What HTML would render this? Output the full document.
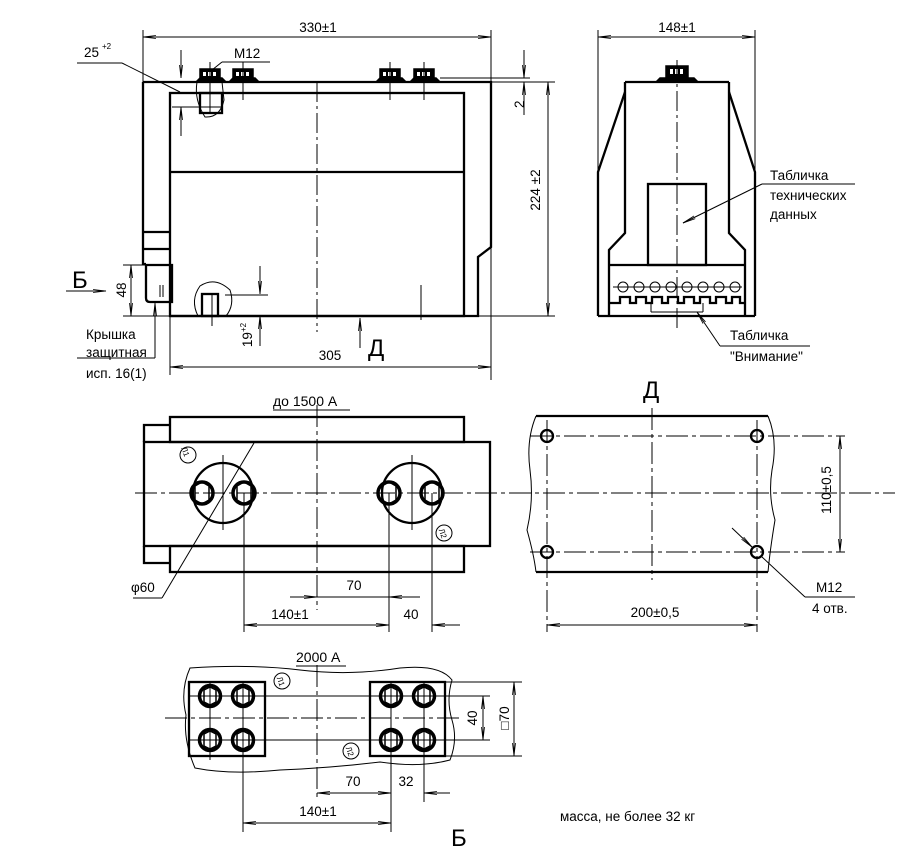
<!DOCTYPE html>
<html><head><meta charset="utf-8"><style>
html,body{margin:0;padding:0;background:#fff;}
svg{display:block;font-family:"Liberation Sans",sans-serif;}
</style></head><body>
<svg width="907" height="860" viewBox="0 0 907 860" xmlns="http://www.w3.org/2000/svg">
<defs>
<marker id="a" markerWidth="14" markerHeight="6" refX="13" refY="3" orient="auto-start-reverse" markerUnits="userSpaceOnUse">
<path d="M0,1.5 L13,3 L0,4.5" fill="none" stroke="#000" stroke-width="0.8"/></marker>
</defs>
<g fill="none" stroke="#000" stroke-width="1">
<!-- ===== Top left view ===== -->
<g stroke-width="2.3">
<path d="M143,82 H491 V247 L478,257 V316 H170"/>
<path d="M143,82 V264 H146"/>
<rect x="170" y="93" width="294" height="223"/>
<line x1="170" y1="172" x2="464" y2="172"/>
<line x1="143" y1="232" x2="170" y2="232"/>
<line x1="143" y1="249" x2="170" y2="249"/>
<path d="M146,265 H172 V302 H150 Q146,302 146,298 Z"/>
<rect x="200" y="93" width="22" height="20"/>
<rect x="202" y="294" width="16" height="22"/>
</g>
<g fill="#000" stroke-width="1.5">
<rect x="200" y="69" width="20" height="10"/><rect x="233" y="69" width="20" height="10"/>
<rect x="380" y="69" width="20" height="10"/><rect x="414" y="69" width="20" height="10"/>
<path d="M196,82 L200,78 H222 L226,82 Z M229,82 L233,78 H255 L259,82 Z M376,82 L380,78 H402 L406,82 Z M410,82 L414,78 H436 L440,82 Z"/>
</g>
<g fill="#fff" stroke="none">
<rect x="203" y="72" width="3" height="4"/><rect x="208" y="72" width="3" height="4"/><rect x="213" y="72" width="3" height="4"/>
<rect x="236" y="72" width="3" height="4"/><rect x="241" y="72" width="3" height="4"/><rect x="246" y="72" width="3" height="4"/>
<rect x="383" y="72" width="3" height="4"/><rect x="388" y="72" width="3" height="4"/><rect x="393" y="72" width="3" height="4"/>
<rect x="417" y="72" width="3" height="4"/><rect x="422" y="72" width="3" height="4"/><rect x="427" y="72" width="3" height="4"/>
</g>
<path d="M197,82 Q194,100 205,117 Q220,118 224,100 L222,82" stroke-width="1"/>
<path d="M198,316 Q190,300 200,286 Q215,276 230,290 Q235,305 226,316"/>
<line x1="210" y1="93" x2="210" y2="113"/><line x1="212" y1="294" x2="212" y2="316"/>
<line x1="160" y1="285" x2="160" y2="297"/><line x1="163" y1="285" x2="163" y2="297"/>
<line x1="317" y1="82" x2="317" y2="332" stroke-dasharray="20,4,3,4"/>
<line x1="210" y1="62" x2="210" y2="100"/><line x1="243" y1="62" x2="243" y2="100"/>
<line x1="390" y1="62" x2="390" y2="100"/><line x1="424" y1="62" x2="424" y2="100"/>
<line x1="421" y1="285" x2="421" y2="320"/><line x1="212" y1="316" x2="212" y2="326"/>
<!-- dims -->
<line x1="143" y1="30" x2="143" y2="82"/><line x1="491" y1="30" x2="491" y2="380"/>
<line x1="143" y1="37" x2="491" y2="37" marker-start="url(#a)" marker-end="url(#a)"/>
<line x1="491" y1="82" x2="555" y2="82"/><line x1="478" y1="316" x2="555" y2="316"/>
<line x1="548" y1="82" x2="548" y2="316" marker-start="url(#a)" marker-end="url(#a)"/>
<line x1="491" y1="82" x2="530" y2="82"/><line x1="440" y1="78" x2="530" y2="78"/>
<line x1="524" y1="50" x2="524" y2="78" marker-end="url(#a)"/>
<line x1="524" y1="115" x2="524" y2="82" marker-end="url(#a)"/>
<line x1="170" y1="316" x2="170" y2="375"/>
<line x1="170" y1="367" x2="491" y2="367" marker-start="url(#a)" marker-end="url(#a)"/>
<line x1="181" y1="50" x2="181" y2="78" marker-end="url(#a)"/>
<line x1="181" y1="136" x2="181" y2="107" marker-end="url(#a)"/>
<line x1="172" y1="107" x2="222" y2="107"/>
<line x1="77" y1="63" x2="122" y2="63"/><line x1="122" y1="63" x2="180" y2="92"/>
<line x1="222" y1="62" x2="270" y2="62"/><line x1="222" y1="62" x2="212" y2="70"/>
<line x1="260" y1="266" x2="260" y2="294" marker-end="url(#a)"/>
<line x1="260" y1="346" x2="260" y2="316" marker-end="url(#a)"/>
<line x1="225" y1="295" x2="268" y2="295"/>
<line x1="123" y1="265" x2="146" y2="265"/><line x1="123" y1="316" x2="170" y2="316"/>
<line x1="131" y1="265" x2="131" y2="316" marker-start="url(#a)" marker-end="url(#a)"/>
<line x1="66" y1="291" x2="106" y2="291" marker-end="url(#a)"/>
<line x1="155" y1="330" x2="155" y2="303" marker-end="url(#a)"/>
<line x1="155" y1="330" x2="155" y2="358"/><line x1="77" y1="358" x2="155" y2="358"/>
<line x1="360" y1="348" x2="360" y2="318" marker-end="url(#a)"/>
<!-- ===== Side view ===== -->
<g stroke-width="2.3">
<path d="M625,82 H729 M625,82 V233 L609,250 V316 M729,82 V233 L745,250 V316"/>
<path d="M598,316 V172 L625,92 M755,316 V172 L729,92"/>
<line x1="598" y1="316" x2="755" y2="316"/>
<rect x="648" y="184" width="58" height="81"/>
<line x1="609" y1="265" x2="745" y2="265"/>
<path d="M609,303 H620 V297 H630 V303 H636 V297 H646 V303 H652 V297 H662 V303 H668 V297 H678 V303 H684 V297 H694 V303 H700 V297 H710 V303 H716 V297 H726 V303 H732 V297 H740 V303 H745"/>
</g>
<rect x="666" y="66" width="22" height="11" fill="#000" stroke-width="1.5"/>
<path d="M656,82 L660,78 H694 L698,82 Z" fill="#000" stroke-width="1.5"/>
<g fill="#fff" stroke="none"><rect x="670" y="69" width="3" height="5"/><rect x="675" y="69" width="3" height="5"/><rect x="680" y="69" width="3" height="5"/></g>
<g stroke-width="1">
<circle cx="623" cy="287" r="5"/><circle cx="639" cy="287" r="5"/><circle cx="655" cy="287" r="5"/><circle cx="671" cy="287" r="5"/><circle cx="687" cy="287" r="5"/><circle cx="703" cy="287" r="5"/><circle cx="719" cy="287" r="5"/><circle cx="735" cy="287" r="5"/>
<line x1="613" y1="287" x2="742" y2="287"/>
</g>
<line x1="677" y1="60" x2="677" y2="330" stroke-dasharray="20,4,3,4"/>
<line x1="598" y1="30" x2="598" y2="172"/><line x1="755" y1="30" x2="755" y2="172"/>
<line x1="598" y1="37" x2="755" y2="37" marker-start="url(#a)" marker-end="url(#a)"/>
<line x1="855" y1="184" x2="762" y2="184"/><line x1="762" y1="184" x2="683" y2="223" marker-end="url(#a)"/>
<line x1="810" y1="346" x2="720" y2="346"/><line x1="720" y1="346" x2="697" y2="312" marker-end="url(#a)"/>
<line x1="651" y1="303" x2="651" y2="312"/><line x1="703" y1="303" x2="703" y2="312"/><line x1="651" y1="312" x2="703" y2="312"/>
<!-- ===== Middle left view ===== -->
<g stroke-width="2.3">
<rect x="170" y="417" width="294" height="25"/>
<rect x="144" y="442" width="346" height="104"/>
<rect x="170" y="546" width="294" height="26"/>
<path d="M170,425 H144 V442 M170,563 H144 V546"/>
<circle cx="223" cy="493" r="30"/><circle cx="412" cy="493" r="30"/>
</g>
<g stroke-width="3.5">
<circle cx="202" cy="493" r="11"/><circle cx="244" cy="493" r="11"/>
<circle cx="389" cy="493" r="11"/><circle cx="432" cy="493" r="11"/>
</g>
<g stroke-width="1.5">
<polygon points="195,486 202,482 209,486 209,500 202,504 195,500"/>
<polygon points="237,486 244,482 251,486 251,500 244,504 237,500"/>
<polygon points="382,486 389,482 396,486 396,500 389,504 382,500"/>
<polygon points="425,486 432,482 439,486 439,500 432,504 425,500"/>
</g>
<circle cx="188" cy="455" r="8"/><circle cx="444" cy="533" r="8"/>
<line x1="135" y1="493" x2="895" y2="493" stroke-dasharray="22,4,4,4"/>
<line x1="317" y1="405" x2="317" y2="610" stroke-dasharray="22,4,4,4"/>
<line x1="223" y1="455" x2="223" y2="530"/><line x1="412" y1="455" x2="412" y2="530"/>
<line x1="244" y1="493" x2="244" y2="632"/><line x1="389" y1="493" x2="389" y2="632"/><line x1="432" y1="493" x2="432" y2="632"/>
<line x1="290" y1="597" x2="317" y2="597" marker-end="url(#a)"/>
<line x1="420" y1="597" x2="389" y2="597" marker-end="url(#a)"/>
<line x1="317" y1="597" x2="389" y2="597"/>
<line x1="244" y1="625" x2="389" y2="625" marker-start="url(#a)" marker-end="url(#a)"/>
<line x1="460" y1="625" x2="432" y2="625" marker-end="url(#a)"/>
<line x1="133" y1="598" x2="162" y2="598"/><line x1="162" y1="598" x2="254" y2="443"/>
<!-- ===== Middle right view ===== -->
<g stroke-width="2.3">
<line x1="536" y1="416" x2="768" y2="416"/><line x1="536" y1="572" x2="768" y2="572"/>
<circle cx="547" cy="436" r="6"/><circle cx="757" cy="436" r="6"/>
<circle cx="547" cy="552" r="6"/><circle cx="757" cy="552" r="6"/>
</g>
<path d="M536,416 Q526,440 530,470 Q534,500 527,530 Q534,555 536,572"/>
<path d="M768,416 Q778,440 772,470 Q768,495 775,520 Q770,550 768,572"/>
<line x1="530" y1="436" x2="845" y2="436" stroke-dasharray="22,4,4,4"/>
<line x1="530" y1="552" x2="845" y2="552" stroke-dasharray="22,4,4,4"/>
<line x1="547" y1="420" x2="547" y2="632" stroke-dasharray="22,4,4,4"/>
<line x1="757" y1="420" x2="757" y2="632" stroke-dasharray="22,4,4,4"/>
<line x1="652" y1="408" x2="652" y2="580" stroke-dasharray="22,4,4,4"/>
<line x1="840" y1="436" x2="840" y2="552" marker-start="url(#a)" marker-end="url(#a)"/>
<line x1="547" y1="625" x2="757" y2="625" marker-start="url(#a)" marker-end="url(#a)"/>
<line x1="732" y1="528" x2="752" y2="547" marker-end="url(#a)"/>
<line x1="762" y1="557" x2="805" y2="597"/><line x1="805" y1="597" x2="855" y2="597"/>
<!-- ===== Bottom view ===== -->
<path d="M190,668 Q250,664 300,670 Q350,676 400,668 Q440,664 452,680 Q446,700 452,720 Q458,740 450,760 Q420,768 380,762 Q330,768 280,770 Q230,775 195,768 Q183,740 186,715 Q180,690 190,668 Z"/>
<g stroke-width="2.3">
<rect x="189" y="682" width="76" height="74"/><rect x="370" y="682" width="75" height="74"/>
</g>
<g stroke-width="3.5">
<circle cx="210" cy="696" r="10.5"/><circle cx="243" cy="696" r="10.5"/><circle cx="210" cy="740" r="10.5"/><circle cx="243" cy="740" r="10.5"/>
<circle cx="391" cy="696" r="10.5"/><circle cx="424" cy="696" r="10.5"/><circle cx="391" cy="740" r="10.5"/><circle cx="424" cy="740" r="10.5"/>
</g>
<g stroke-width="1.5">
<polygon points="204,690 210,687 216,690 216,702 210,705 204,702"/><polygon points="237,690 243,687 249,690 249,702 243,705 237,702"/>
<polygon points="204,734 210,731 216,734 216,746 210,749 204,746"/><polygon points="237,734 243,731 249,734 249,746 243,749 237,746"/>
<polygon points="385,690 391,687 397,690 397,702 391,705 385,702"/><polygon points="418,690 424,687 430,690 430,702 424,705 418,702"/>
<polygon points="385,734 391,731 397,734 397,746 391,749 385,746"/><polygon points="418,734 424,731 430,734 430,746 424,749 418,746"/>
</g>
<circle cx="282" cy="681" r="8"/><circle cx="351" cy="751" r="8"/>
<line x1="165" y1="718" x2="460" y2="718" stroke-dasharray="22,4,4,4"/>
<line x1="317" y1="665" x2="317" y2="800" stroke-dasharray="22,4,4,4"/>
<line x1="190" y1="696" x2="490" y2="696"/><line x1="190" y1="740" x2="490" y2="740"/>
<line x1="210" y1="682" x2="210" y2="760"/><line x1="243" y1="682" x2="243" y2="832"/>
<line x1="391" y1="682" x2="391" y2="832"/><line x1="424" y1="682" x2="424" y2="802"/>
<line x1="445" y1="682" x2="522" y2="682"/><line x1="445" y1="756" x2="522" y2="756"/>
<line x1="483" y1="696" x2="483" y2="740" marker-start="url(#a)" marker-end="url(#a)"/>
<line x1="514" y1="682" x2="514" y2="756" marker-start="url(#a)" marker-end="url(#a)"/>
<line x1="317" y1="793" x2="391" y2="793" marker-start="url(#a)" marker-end="url(#a)"/>
<line x1="450" y1="793" x2="424" y2="793" marker-end="url(#a)"/>
<line x1="243" y1="823" x2="391" y2="823" marker-start="url(#a)" marker-end="url(#a)"/>
</g>
<g fill="#000" font-size="13.5">
<text x="318" y="32" text-anchor="middle">330±1</text>
<text x="84" y="57">25</text><text x="102" y="49" font-size="8">+2</text>
<text x="234" y="58">M12</text>
<text x="520" y="112" transform="rotate(-90 520 108)">2</text>
<text x="540" y="190" text-anchor="middle" transform="rotate(-90 540 190)">224 ±2</text>
<text x="330" y="360" text-anchor="middle">305</text>
<text x="368" y="356" font-size="24">Д</text>
<text x="72" y="288" font-size="24">Б</text>
<text x="126" y="290" text-anchor="middle" transform="rotate(-90 126 290)">48</text>
<text x="252" y="335" text-anchor="middle" transform="rotate(-90 252 335)">19<tspan font-size="8" dy="-6">+2</tspan></text>
<text x="86" y="339">Крышка</text><text x="86" y="357">защитная</text><text x="86" y="378">исп. 16(1)</text>
<text x="677" y="32" text-anchor="middle">148±1</text>
<text x="770" y="180">Табличка</text><text x="770" y="200">технических</text><text x="770" y="219">данных</text>
<text x="730" y="340">Табличка</text><text x="730" y="361">"Внимание"</text>
<text x="273" y="406" font-size="14">до 1500 А</text>
<line x1="273" y1="410" x2="350" y2="410" stroke="#000"/>
<text x="643" y="398" font-size="24">Д</text>
<text x="354" y="590" text-anchor="middle">70</text>
<text x="290" y="619" text-anchor="middle">140±1</text>
<text x="411" y="619" text-anchor="middle">40</text>
<text x="131" y="592">φ60</text>
<text x="184" y="459" font-size="8" text-anchor="middle" transform="rotate(70 188 455)">Л1</text>
<text x="444" y="537" font-size="8" text-anchor="middle" transform="rotate(70 444 533)">Л2</text>
<text x="655" y="617" text-anchor="middle">200±0,5</text>
<text x="835" y="494" text-anchor="middle" transform="rotate(-90 831 494)">110±0,5</text>
<text x="816" y="592">M12</text><text x="812" y="613">4 отв.</text>
<text x="296" y="662" font-size="14">2000 А</text>
<line x1="296" y1="666" x2="346" y2="666" stroke="#000"/>
<text x="282" y="685" font-size="8" text-anchor="middle" transform="rotate(70 282 681)">Л1</text>
<text x="351" y="755" font-size="8" text-anchor="middle" transform="rotate(70 351 751)">Л2</text>
<text x="477" y="718" text-anchor="middle" transform="rotate(-90 477 718)">40</text>
<text x="509" y="718" text-anchor="middle" transform="rotate(-90 509 718)">□70</text>
<text x="353" y="786" text-anchor="middle">70</text>
<text x="406" y="786" text-anchor="middle">32</text>
<text x="318" y="816" text-anchor="middle">140±1</text>
<text x="451" y="846" font-size="24">Б</text>
<text x="560" y="821">масса, не более 32 кг</text>
</g>
</svg>
</body></html>
